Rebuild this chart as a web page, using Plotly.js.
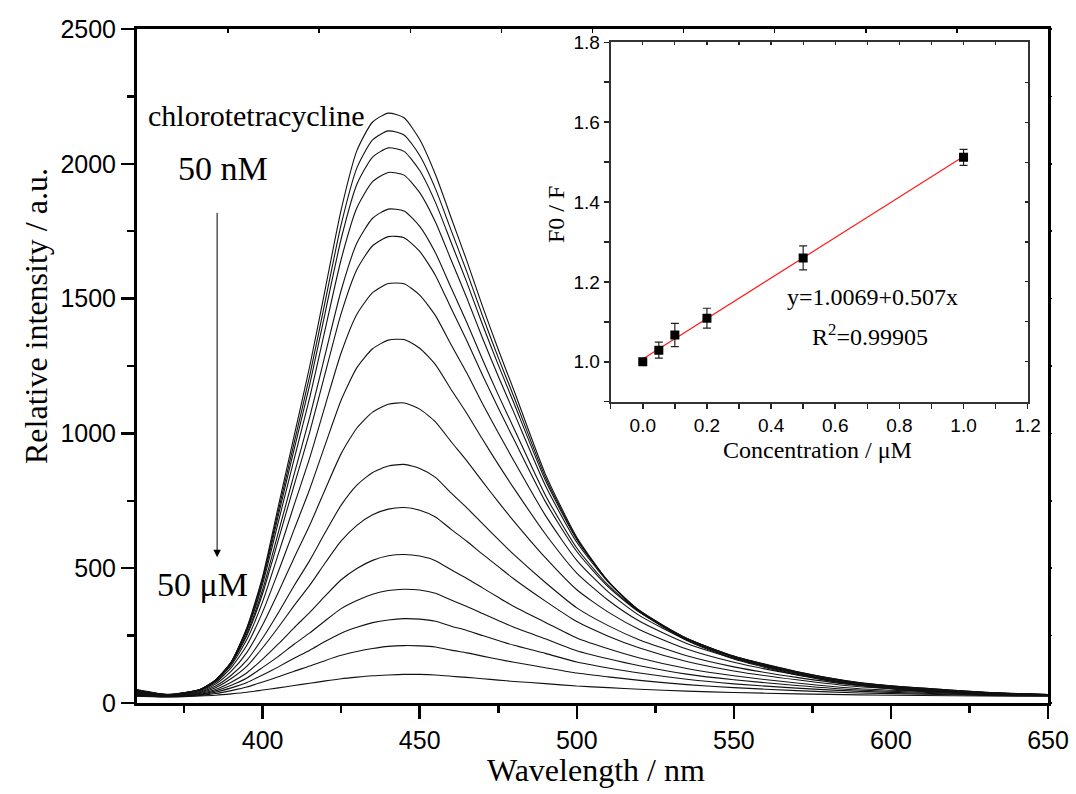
<!DOCTYPE html>
<html>
<head>
<meta charset="utf-8">
<script src="https://cdn.plot.ly/plotly-3.0.1.min.js"></script>
<style>html,body{margin:0;padding:0;background:#fff;}#chart{width:1076px;height:794px;}</style>
</head>
<body>
<div id="chart"></div>
<script>
// Emission spectra: wavelength (nm) and relative intensity, top (50 nM) to bottom (50 uM)
const wavelength = [360,370,380,385,390,395,400,405,410,415,420,425,430,435,440,445,450,455,460,465,470,475,480,490,500,510,520,535,550,570,590,610,630,650];
const s1  = [50,32,50,85,152,280,470,730,990,1250,1540,1830,2049,2155,2188,2171,2090,1960,1800,1640,1471,1311,1159,849,615,451,338,232,163,104,65,43,35,28];
const s2  = [48,31,50,85,152,277,462,713,964,1215,1495,1775,1985,2089,2122,2107,2031,1908,1753,1599,1436,1281,1135,837,610,451,340,235,166,107,67,45,36,29];
const s3  = [47,31,50,85,152,273,454,696,940,1182,1453,1722,1924,2025,2059,2046,1975,1857,1708,1560,1403,1254,1112,826,606,451,342,238,169,110,69,47,36,29];
const s4  = [46,30,50,85,151,268,442,672,904,1134,1391,1646,1837,1934,1968,1958,1893,1784,1643,1502,1353,1212,1077,807,596,448,343,240,172,113,72,49,37,30];
const s5  = [44,30,49,84,148,258,421,633,848,1061,1297,1531,1706,1798,1832,1825,1768,1670,1540,1411,1274,1143,1018,771,575,437,338,239,173,114,73,51,38,30];
const s6  = [43,29,49,83,146,251,406,605,807,1006,1227,1445,1608,1696,1730,1726,1675,1586,1464,1344,1216,1094,977,747,562,431,336,239,174,117,75,53,39,31];
const s7  = [41,28,47,80,140,236,376,553,734,910,1107,1299,1442,1522,1556,1555,1513,1437,1329,1224,1110,1002,898,696,529,412,324,234,172,116,76,55,40,31];
const s8  = [39,27,46,76,131,215,338,488,643,794,961,1124,1244,1314,1346,1348,1316,1255,1163,1074,978,885,796,627,482,381,303,221,165,113,74,55,40,31];
const s9  = [37,27,43,70,118,188,290,411,538,660,795,925,1020,1079,1108,1113,1090,1043,969,898,821,746,674,539,420,337,272,200,151,105,71,53,39,31];
const s10 = [35,26,40,63,103,159,241,335,435,529,634,734,808,855,879,885,870,837,779,724,665,607,550,447,353,287,234,175,134,95,65,50,37,30];
const s11 = [33,25,38,57,91,137,205,281,361,437,521,601,659,698,719,725,715,690,644,600,552,506,460,378,302,248,204,154,119,86,60,47,36,30];
const s12 = [31,24,35,50,77,112,163,219,279,336,398,457,499,529,546,551,545,528,494,462,427,392,358,299,241,201,167,128,101,74,53,43,33,29];
const s13 = [29,24,32,45,66,93,132,173,218,260,306,350,380,403,417,422,419,407,382,358,332,306,281,238,194,164,138,107,86,65,48,40,32,28];
const s14 = [28,23,30,40,56,76,104,134,166,196,229,259,281,298,308,313,311,303,285,269,250,232,214,184,152,130,111,88,71,55,43,36,30,27];
const s15 = [26,23,28,35,46,59,78,97,118,137,158,177,191,202,210,213,212,208,196,186,174,162,151,131,111,97,84,68,57,46,37,33,28,26];
const s16 = [25,22,26,29,34,40,48,56,65,73,82,90,96,101,104,106,106,104,99,95,90,85,80,72,63,57,51,44,39,34,30,28,26,25];

// Inset: Stern-Volmer data
const concentration = [0, 0.05, 0.1, 0.2, 0.5, 1.0];
const f0OverF = [1.000, 1.029, 1.067, 1.109, 1.260, 1.512];
const f0Error = [0, 0.020, 0.029, 0.025, 0.030, 0.020];
const fitX = [0, 1.0];
const fitY = [1.0069, 1.5139];

const mainXTicks = [400, 450, 500, 550, 600, 650];
const mainYTicks = [0, 500, 1000, 1500, 2000, 2500];

const spectra = [s1,s2,s3,s4,s5,s6,s7,s8,s9,s10,s11,s12,s13,s14,s15,s16];
const traces = spectra.map(s => ({
  x: wavelength, y: s, type: 'scatter', mode: 'lines',
  line: {color: '#111', width: 1.1, shape: 'spline', smoothing: 0.6},
  xaxis: 'x', yaxis: 'y', hoverinfo: 'skip'
}));
traces.push({
  x: fitX, y: fitY, type: 'scatter', mode: 'lines',
  line: {color: '#ff1a1a', width: 1.2}, xaxis: 'x2', yaxis: 'y2'
});
traces.push({
  x: concentration, y: f0OverF, type: 'scatter', mode: 'markers',
  marker: {symbol: 'square', size: 9, color: '#000'},
  error_y: {type: 'data', array: f0Error, visible: true, color: '#222', thickness: 1.2, width: 4},
  xaxis: 'x2', yaxis: 'y2'
});
// empty traces so the mirrored tick axes are drawn
traces.push({x: [null], y: [null], type: 'scatter', mode: 'lines', xaxis: 'x3', yaxis: 'y3', hoverinfo: 'skip'});
traces.push({x: [null], y: [null], type: 'scatter', mode: 'lines', xaxis: 'x4', yaxis: 'y4', hoverinfo: 'skip'});

const serif = 'Liberation Serif, Times New Roman, serif';
const sans = 'Liberation Sans, Arial, sans-serif';
const L = 137, R = 1048, T = 29, B = 703;
const px = v => (v - L) / (R - L);
const py = v => (B - v) / (B - T);

const hidden = {showticklabels: false, showline: false, showgrid: false, zeroline: false};

const layout = {
  width: 1076, height: 794,
  margin: {l: 137, r: 28, t: 29, b: 91},
  paper_bgcolor: '#fff', plot_bgcolor: '#fff',
  showlegend: false,
  xaxis: {
    domain: [0, 1], anchor: 'y', range: [360, 650],
    tickvals: mainXTicks, ticks: 'outside', ticklen: 13, tickwidth: 2.5, tickcolor: '#000',
    minor: {dtick: 25, tick0: 0, ticks: 'outside', ticklen: 7, tickwidth: 2.5, tickcolor: '#000'},
    showline: true, linewidth: 3, linecolor: '#000', mirror: true,
    showgrid: false, zeroline: false,
    tickfont: {family: sans, size: 25, color: '#000'}
  },
  yaxis: {
    domain: [0, 1], anchor: 'x', range: [0, 2500],
    tickvals: mainYTicks, ticks: 'outside', ticklen: 13, tickwidth: 2.5, tickcolor: '#000',
    minor: {dtick: 250, tick0: 0, ticks: 'outside', ticklen: 7, tickwidth: 2.5, tickcolor: '#000'},
    showline: true, linewidth: 3, linecolor: '#000', mirror: true,
    showgrid: false, zeroline: false,
    tickfont: {family: sans, size: 25, color: '#000'}
  },
  xaxis3: Object.assign({
    overlaying: 'x', side: 'top', anchor: 'y3', range: [360, 650],
    tick0: 360, dtick: 29, ticks: 'inside', ticklen: 4, tickwidth: 1.5, tickcolor: '#000'
  }, hidden),
  yaxis3: Object.assign({
    overlaying: 'y', side: 'right', anchor: 'x3', range: [0, 2500],
    tick0: 0, dtick: 250, ticks: 'outside', ticklen: 3, tickwidth: 1.5, tickcolor: '#000'
  }, hidden),
  xaxis2: {
    domain: [px(610.7), px(1027.7)], anchor: 'y2', range: [-0.1, 1.2],
    tick0: 0, dtick: 0.2, tickformat: '.1f',
    ticks: 'outside', ticklen: 5, tickwidth: 1.5, tickcolor: '#222',
    minor: {dtick: 0.1, tick0: 0, ticks: 'outside', ticklen: 5, tickwidth: 1.5, tickcolor: '#222'},
    showline: true, linewidth: 2, linecolor: '#333', mirror: true,
    showgrid: false, zeroline: false,
    tickfont: {family: sans, size: 19, color: '#000'}
  },
  yaxis2: {
    domain: [py(401.7), py(42.3)], anchor: 'x2', range: [0.9, 1.8],
    tick0: 0, dtick: 0.2, tickformat: '.1f',
    ticks: 'outside', ticklen: 5, tickwidth: 1.5, tickcolor: '#222',
    minor: {dtick: 0.1, tick0: 0, ticks: 'outside', ticklen: 5, tickwidth: 1.5, tickcolor: '#222'},
    showline: true, linewidth: 2, linecolor: '#333', mirror: true,
    showgrid: false, zeroline: false,
    tickfont: {family: sans, size: 19, color: '#000'}
  },
  xaxis4: Object.assign({
    overlaying: 'x2', side: 'top', anchor: 'y4', range: [-0.1, 1.2],
    tick0: 0, dtick: 0.1, ticks: 'inside', ticklen: 3, tickwidth: 1.2, tickcolor: '#222'
  }, hidden),
  yaxis4: Object.assign({
    overlaying: 'y2', side: 'right', anchor: 'x4', range: [0.9, 1.8],
    tick0: 0, dtick: 0.1, ticks: 'inside', ticklen: 3, tickwidth: 1.2, tickcolor: '#222'
  }, hidden),
  annotations: [
    {text: 'Relative intensity / a.u.', xref: 'paper', yref: 'paper', x: px(36), y: py(316),
     textangle: -90, showarrow: false, xanchor: 'center', yanchor: 'middle',
     font: {family: serif, size: 32, color: '#000'}},
    {text: 'Wavelength / nm', xref: 'paper', yref: 'paper', x: px(596), y: py(770),
     showarrow: false, xanchor: 'center', yanchor: 'middle',
     font: {family: serif, size: 32, color: '#000'}},
    {text: 'chlorotetracycline', xref: 'paper', yref: 'paper', x: px(256), y: py(116),
     showarrow: false, xanchor: 'center', yanchor: 'middle',
     font: {family: serif, size: 30, color: '#000'}},
    {text: '50 nM', xref: 'paper', yref: 'paper', x: px(222.5), y: py(169),
     showarrow: false, xanchor: 'center', yanchor: 'middle',
     font: {family: serif, size: 34, color: '#000'}},
    {text: '50 \u03bcM', xref: 'paper', yref: 'paper', x: px(202.5), y: py(584),
     showarrow: false, xanchor: 'center', yanchor: 'middle',
     font: {family: serif, size: 34, color: '#000'}},
    {text: ' ', xref: 'x', yref: 'y', x: 385.5, y: 541, axref: 'x', ayref: 'y', ax: 385.5, ay: 1855,
     showarrow: true, arrowhead: 2, arrowsize: 1.5, arrowwidth: 1, arrowcolor: '#000'},
    {text: 'F0 / F', xref: 'paper', yref: 'paper', x: px(556), y: py(215),
     textangle: -90, showarrow: false, xanchor: 'center', yanchor: 'middle',
     font: {family: serif, size: 24, color: '#000'}},
    {text: 'Concentration / \u03bcM', xref: 'paper', yref: 'paper', x: px(817), y: py(450),
     showarrow: false, xanchor: 'center', yanchor: 'middle',
     font: {family: serif, size: 24, color: '#000'}},
    {text: 'y=1.0069+0.507x', xref: 'paper', yref: 'paper', x: px(872.5), y: py(297),
     showarrow: false, xanchor: 'center', yanchor: 'middle',
     font: {family: serif, size: 24, color: '#000'}},
    {text: 'R<sup>2</sup>=0.99905', xref: 'paper', yref: 'paper', x: px(870), y: py(335),
     showarrow: false, xanchor: 'center', yanchor: 'middle',
     font: {family: serif, size: 24, color: '#000'}}
  ]
};

Plotly.newPlot('chart', traces, layout, {displayModeBar: false, staticPlot: true});
</script>
</body>
</html>
